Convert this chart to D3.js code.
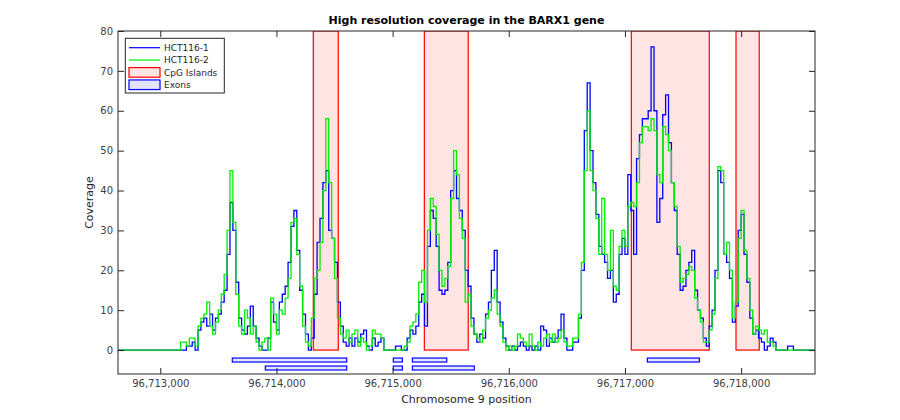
<!DOCTYPE html>
<html>
<head>
<meta charset="utf-8">
<script src="https://cdn.jsdelivr.net/npm/d3@7"></script>
<style>
  body { margin: 0; background: #fff; }
  svg text { font-family: "DejaVu Sans", sans-serif; fill: #262626; }
</style>
</head>
<body>
<svg id="chart" width="900" height="420"></svg>
<script>
// coverage in 25 bp bins starting at binStart
const binStart = 96713150;
const binSize = 25;

const hct1 = [
  0, 0, 0, 1, 1, 2, 0, 5, 7, 8,
  6, 9, 5, 8, 9, 12, 15, 24, 37, 30,
  17, 8, 5, 4, 6, 11, 6, 3, 1, 0,
  0, 3, 12, 7, 5, 12, 14, 16, 22, 31,
  35, 25, 15, 9, 4, 0, 3, 14, 27, 33,
  42, 45, 30, 28, 22, 12, 6, 2, 1, 3,
  1, 3, 2, 4, 5, 1, 0, 3, 1, 2,
  3, 0, 0, 0, 0, 1, 1, 0, 0, 3,
  5, 4, 6, 12, 14, 6, 26, 35, 33, 26,
  15, 14, 15, 22, 40, 45, 38, 35, 30, 20,
  16, 8, 4, 2, 4, 3, 9, 12, 20, 25,
  12, 7, 3, 1, 0, 1, 0, 1, 2, 1,
  0, 1, 0, 1, 0, 6, 5, 1, 3, 2,
  3, 5, 9, 3, 0, 0, 2, 2, 8, 20,
  55, 67, 50, 42, 34, 26, 24, 22, 18, 20,
  12, 14, 24, 28, 24, 44, 35, 24, 48, 54,
  58, 58, 60, 76, 60, 32, 38, 59, 64, 52,
  42, 35, 24, 15, 16, 20, 22, 25, 15, 10,
  8, 3, 1, 6, 10, 20, 45, 42, 24, 22,
  18, 7, 11, 30, 34, 24, 17, 8, 4, 5,
  3, 2, 0, 1, 3, 2, 0, 0, 0, 0,
  1, 1, 0
];

const hct2 = [
  0, 2, 2, 1, 3, 3, 1, 6, 8, 9,
  12, 6, 4, 7, 10, 14, 19, 30, 45, 32,
  14, 6, 4, 10, 8, 4, 6, 2, 0, 2,
  3, 0, 13, 9, 4, 10, 9, 13, 18, 32,
  33, 24, 16, 6, 2, 1, 8, 18, 20, 27,
  40, 58, 42, 28, 18, 8, 4, 3, 5, 2,
  4, 5, 1, 3, 2, 0, 1, 5, 4, 4,
  3, 0, 0, 0, 0, 0, 0, 0, 1, 2,
  6, 7, 9, 17, 20, 12, 30, 38, 36, 29,
  20, 16, 18, 21, 38, 50, 44, 33, 28, 12,
  14, 6, 4, 3, 2, 5, 8, 10, 13, 15,
  9, 6, 2, 0, 1, 0, 1, 4, 3, 2,
  1, 4, 1, 0, 2, 1, 3, 4, 2, 4,
  2, 3, 5, 2, 1, 1, 3, 3, 9, 22,
  45, 60, 45, 40, 33, 24, 38, 24, 20, 30,
  16, 15, 26, 30, 26, 36, 37, 36, 42, 52,
  56, 56, 55, 58, 55, 44, 42, 56, 54, 50,
  42, 36, 26, 17, 18, 19, 21, 20, 13, 10,
  7, 2, 2, 5, 9, 18, 46, 45, 24, 27,
  20, 8, 12, 28, 35, 25, 18, 10, 4, 6,
  5, 4, 5, 2, 2, 1, 0, 0, 0, 0,
  0, 0, 0
];

const cpgStart = [96714317, 96715273, 96717055, 96717956];
const cpgEnd = [96714532, 96715651, 96717726, 96718156];

const exonStart = [96713620, 96715006, 96715170, 96717193, 96713904, 96715006, 96715170];
const exonEnd = [96714605, 96715084, 96715466, 96717641, 96714605, 96715084, 96715703];
const exonRow = [1, 1, 1, 1, 2, 2, 2];

const xTicks = [96713000, 96714000, 96715000, 96716000, 96717000, 96718000];
const yTicks = [0, 10, 20, 30, 40, 50, 60, 70, 80];

const seriesNames = ["HCT116-1", "HCT116-2"];
const seriesColors = ["#0000ff", "#00ee00"];

const margin = { top: 31, right: 85, bottom: 46, left: 118 };
const width = 900 - margin.left - margin.right;
const height = 420 - margin.top - margin.bottom;
const xDomain = [96712636, 96718636];

const x = d3.scaleLinear().domain(xDomain).range([0, width]);
const y = d3.scaleLinear().domain([-6, 80]).range([height, 0]);

const svg = d3.select("#chart");
const g = svg.append("g").attr("transform", `translate(${margin.left},${margin.top})`);

g.append("clipPath").attr("id", "clip")
  .append("rect").attr("width", width).attr("height", height);

const plot = g.append("g").attr("clip-path", "url(#clip)");

// CpG islands
const cpg = cpgStart.map((s, i) => ({ start: s, end: cpgEnd[i] }));
plot.selectAll(".cpg")
  .data(cpg)
  .enter()
  .append("rect")
  .attr("class", "cpg")
  .attr("x", (d) => x(d.start))
  .attr("width", (d) => x(d.end) - x(d.start))
  .attr("y", y(80))
  .attr("height", y(0) - y(80))
  .style("fill", "#ffe4e4")
  .style("stroke", "#ff0000")
  .style("stroke-width", 1.2);

// exons
const exons = exonStart.map((s, i) => ({ start: s, end: exonEnd[i], row: exonRow[i] }));
plot.selectAll(".exon")
  .data(exons)
  .enter()
  .append("rect")
  .attr("class", "exon")
  .attr("x", (d) => x(d.start))
  .attr("width", (d) => x(d.end) - x(d.start))
  .attr("y", (d) => y(-2 * d.row))
  .attr("height", (d) => y(-2 * d.row - 1) - y(-2 * d.row))
  .style("fill", "#e4e4ff")
  .style("stroke", "#0000ff")
  .style("stroke-width", 1.2);

// step lines
const line = d3.line()
  .x((d) => x(d[0]))
  .y((d) => y(d[1]))
  .curve(d3.curveStepAfter);

function stepPoints(values) {
  const pts = [[xDomain[0], 0]];
  values.forEach((v, i) => pts.push([binStart + i * binSize, v]));
  pts.push([binStart + values.length * binSize, 0]);
  pts.push([xDomain[1], 0]);
  return pts;
}

[hct1, hct2].forEach((vals, k) => {
  plot.append("path")
    .datum(stepPoints(vals))
    .attr("d", line)
    .style("fill", "none")
    .style("stroke", seriesColors[k])
    .style("stroke-width", 1.3);
});

// axes
const fmt = d3.format(",");
g.append("g")
  .attr("transform", `translate(0,${height})`)
  .call(d3.axisBottom(x).tickValues(xTicks).tickFormat(fmt).tickSize(-6).tickPadding(6))
  .call((a) => a.select(".domain").remove());
g.append("g")
  .call(d3.axisTop(x).tickValues(xTicks).tickFormat("").tickSize(-6))
  .call((a) => a.select(".domain").remove());
g.append("g")
  .call(d3.axisLeft(y).tickValues(yTicks).tickSize(-6).tickPadding(5))
  .call((a) => a.select(".domain").remove());
g.append("g")
  .attr("transform", `translate(${width},0)`)
  .call(d3.axisRight(y).tickValues(yTicks).tickFormat("").tickSize(-6))
  .call((a) => a.select(".domain").remove());

g.selectAll(".tick line").style("stroke", "#262626");
g.selectAll(".tick text").style("font-size", "10px").style("fill", "#404040");

g.append("rect")
  .attr("width", width)
  .attr("height", height)
  .style("fill", "none")
  .style("stroke", "#262626")
  .style("stroke-width", 1);

// titles
svg.append("text")
  .attr("x", margin.left + width / 2)
  .attr("y", 24)
  .attr("text-anchor", "middle")
  .style("font-size", "11px")
  .style("font-weight", "bold")
  .style("fill", "#000")
  .text("High resolution coverage in the BARX1 gene");

svg.append("text")
  .attr("x", margin.left + width / 2)
  .attr("y", 403)
  .attr("text-anchor", "middle")
  .style("font-size", "11px")
  .text("Chromosome 9 position");

svg.append("text")
  .attr("transform", `translate(93,${margin.top + height / 2}) rotate(-90)`)
  .attr("text-anchor", "middle")
  .style("font-size", "11px")
  .text("Coverage");

// legend
const legend = g.append("g").attr("transform", "translate(7.3,7.3)");
legend.append("rect")
  .attr("width", 99)
  .attr("height", 54.7)
  .style("fill", "#fff")
  .style("stroke", "#262626")
  .style("stroke-width", 1);

const legendItems = [
  { label: seriesNames[0], type: "line", color: seriesColors[0] },
  { label: seriesNames[1], type: "line", color: seriesColors[1] },
  { label: "CpG Islands", type: "patch", color: "#ff0000", fill: "#ffe4e4" },
  { label: "Exons", type: "patch", color: "#0000ff", fill: "#e4e4ff" },
];

const rows = legend.selectAll(".leg")
  .data(legendItems)
  .enter()
  .append("g")
  .attr("class", "leg")
  .attr("transform", (d, i) => `translate(0,${9.4 + i * 12.35})`);

rows.each(function (d) {
  const r = d3.select(this);
  if (d.type === "line") {
    r.append("line")
      .attr("x1", 3.7).attr("x2", 34.7)
      .style("stroke", d.color)
      .style("stroke-width", 1.2);
  } else {
    r.append("rect")
      .attr("x", 3.7).attr("y", -4.8)
      .attr("width", 31).attr("height", 9.6)
      .style("fill", d.fill)
      .style("stroke", d.color)
      .style("stroke-width", 1.2);
  }
  r.append("text")
    .attr("x", 38.7)
    .attr("dy", "0.35em")
    .style("font-size", "9px")
    .text(d.label);
});
</script>
</body>
</html>
